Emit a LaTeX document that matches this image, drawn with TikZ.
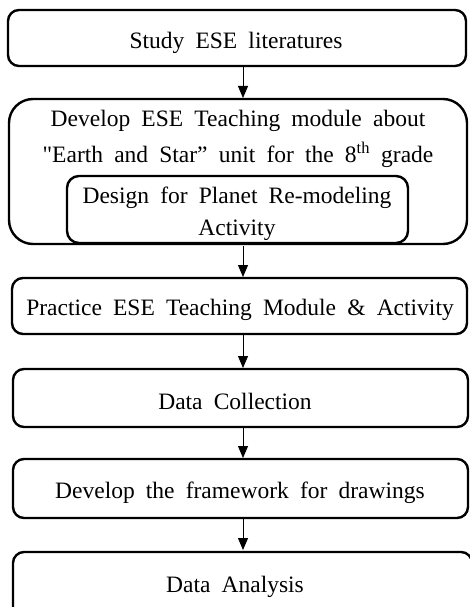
\documentclass[tikz,border=0pt]{standalone}
\usepackage{fontspec}
\setmainfont[WordSpace=1.9]{Liberation Serif}
\newfontfamily\plainq[WordSpace=1.9]{Liberation Serif}
\usetikzlibrary{arrows.meta}
\begin{document}
\begin{tikzpicture}[x=1pt,y=-1pt,
  box/.style={draw,line width=2.4pt,rounded corners=11pt},
  lbl/.style={font=\fontsize{23.5}{36}\selectfont,inner sep=0pt,align=center},
  arr/.style={line width=0.8pt,-{Triangle[width=10pt,length=12pt]}}]
\clip (0,0) rectangle (470,607);
\useasboundingbox (0,0) rectangle (470,607);
% boxes
\draw[box] (8,10) rectangle (466,66);
\node[lbl] (t1) at (236,43) {Study ESE literatures};
\coordinate (b1) at (243,67);
\draw[box,rounded corners=24pt] (9,99) rectangle (467,244);
\node[lbl] (t2a) at (238,121) {Develop ESE Teaching module about};
\node[lbl] (t2b) at (238,155) {{\plainq"}Earth and Star” unit for the 8\textsuperscript{th} grade};
\coordinate (b2) at (243,98);
\draw[box,rounded corners=12pt] (67,176) rectangle (408,243);
\node[lbl] (t2c) at (237,198) {Design for Planet Re-modeling};
\node[lbl] (t2d) at (237,230) {Activity};
\coordinate (b2b) at (243,246);
\draw[box] (12,278) rectangle (467,334);
\node[lbl] (t3) at (240,310) {Practice ESE Teaching Module \& Activity};
\coordinate (b3t) at (243,277);
\coordinate (b3b) at (243,335);
\draw[box] (13,369) rectangle (468,427);
\node[lbl] (t4) at (235,401) {Data Collection};
\coordinate (b4t) at (243,368);
\coordinate (b4b) at (243,428);
\draw[box] (13,459) rectangle (468,518);
\node[lbl] (t5) at (240,493) {Develop the framework for drawings};
\coordinate (b5t) at (243,458);
\coordinate (b5b) at (243,519);
\draw[box] (13,552) rectangle (472,620);
\node[lbl] (t6) at (235,587) {Data Analysis};
\coordinate (b6t) at (243,550);
% arrows
\draw[arr] (b1) -- (b2);
\draw[arr] (b2b) -- (b3t);
\draw[arr] (b3b) -- (b4t);
\draw[arr] (b4b) -- (b5t);
\draw[arr] (b5b) -- (b6t);
\end{tikzpicture}
\end{document}
